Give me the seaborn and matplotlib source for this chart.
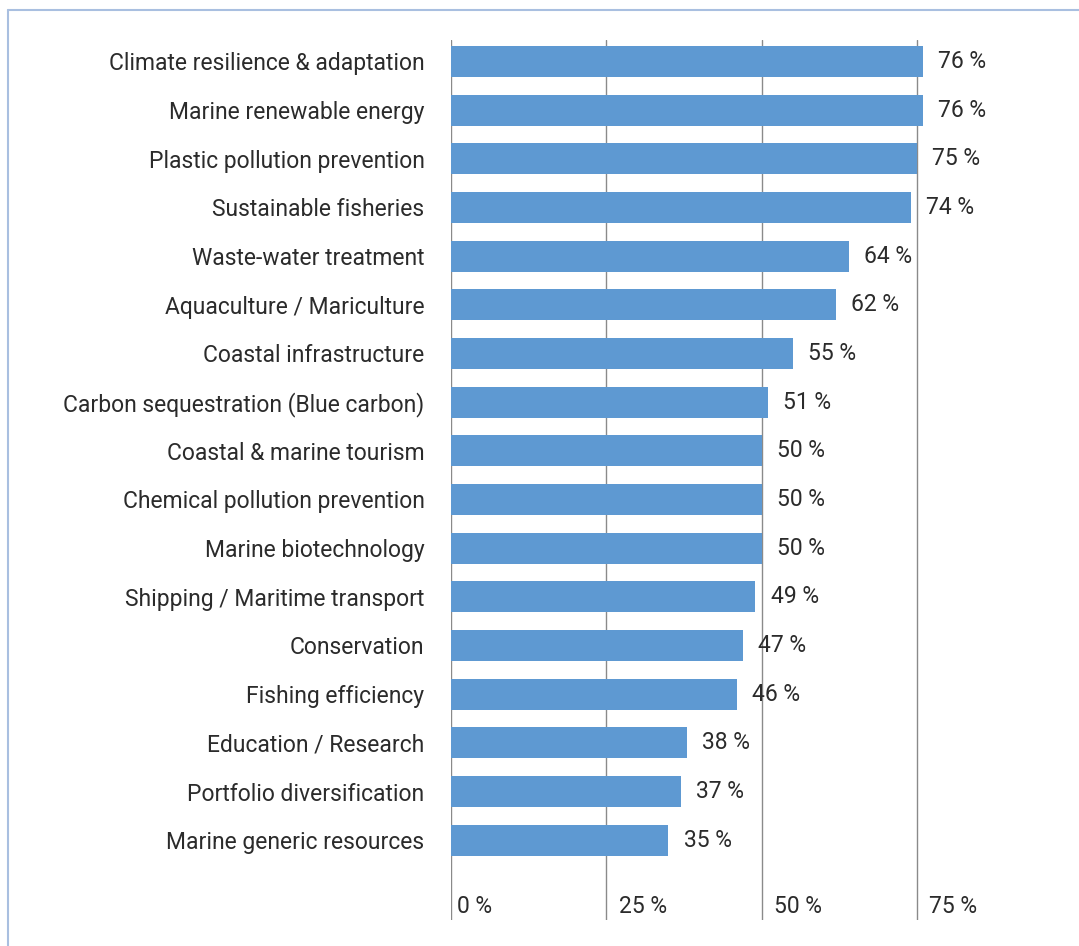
import matplotlib
matplotlib.use("Agg")
import matplotlib.pyplot as plt
import seaborn as sns
import pandas as pd

categories = [
    "Climate resilience & adaptation",
    "Marine renewable energy",
    "Plastic pollution prevention",
    "Sustainable fisheries",
    "Waste-water treatment",
    "Aquaculture / Mariculture",
    "Coastal infrastructure",
    "Carbon sequestration (Blue carbon)",
    "Coastal & marine tourism",
    "Chemical pollution prevention",
    "Marine biotechnology",
    "Shipping / Maritime transport",
    "Conservation",
    "Fishing efficiency",
    "Education / Research",
    "Portfolio diversification",
    "Marine generic resources",
]
shares = [76, 76, 75, 74, 64, 62, 55, 51, 50, 50, 50, 49, 47, 46, 38, 37, 35]
x_ticks = [0, 25, 50, 75]
x_tick_labels = ["0 %", "25 %", "50 %", "75 %"]

df = pd.DataFrame({"category": categories, "share": shares})

sns.set_theme(style="white")
plt.rcParams["font.family"] = ["Roboto", "DejaVu Sans"]

FS = 16.5
TXT = "#2b2b2b"
W, H = 1079, 946
fig = plt.figure(figsize=(W / 100, H / 100), dpi=100)

# frame lines along the top and left edge
fig.add_artist(plt.Line2D([8 / W, 1.0], [1 - 10 / H, 1 - 10 / H],
                          color="#a9bfe0", lw=1.5, transform=fig.transFigure))
fig.add_artist(plt.Line2D([8 / W, 8 / W], [0, 1 - 10 / H],
                          color="#a9bfe0", lw=1.5, transform=fig.transFigure))

ax = fig.add_axes([451 / W, 26 / H, (W - 451) / W, 880 / H])
sns.barplot(data=df, y="category", x="share", orient="h", color="#5E99D2",
            saturation=1, width=0.64, linewidth=0, ax=ax)

ax.set_xlim(0, (W - 451) / 6.213)
ax.set_ylim(17.64, -0.44)
for s in ax.spines.values():
    s.set_visible(False)

for v in x_ticks:
    ax.axvline(v, color="#8a8a8a", lw=1, zorder=0)

ax.set_xticks([])
ax.set_xlabel("")
ax.set_ylabel("")
ax.tick_params(axis="y", length=0, pad=19, labelsize=FS, labelcolor=TXT)

# value labels to the right of each bar
for i, v in enumerate(shares):
    ax.annotate(f"{v} %", xy=(v, i), xytext=(11, 0), textcoords="offset points",
                ha="left", va="center", fontsize=FS, color=TXT)

# percentage scale along the bottom, inside the plot
for v, lab in zip(x_ticks, x_tick_labels):
    off = 4 if v == 0 else 9
    ax.annotate(lab, xy=(v, 17.37), xytext=(off, 0), textcoords="offset points",
                ha="left", va="center", fontsize=FS, color=TXT)

fig.savefig("out.png", dpi=100, facecolor="white")
